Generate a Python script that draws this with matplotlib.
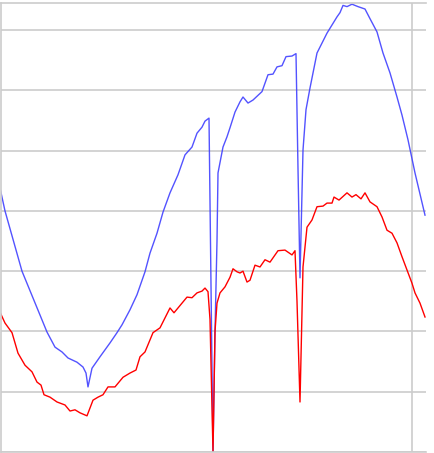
import matplotlib
matplotlib.use('Agg')
import matplotlib.pyplot as plt

# blue series (x position, value)
blue_x = [0, 5, 22, 47, 55, 62, 68, 77, 83, 86, 88, 92, 100, 110, 117, 122, 130, 137,
          145, 150, 157, 163, 170, 178, 185, 192, 197, 202, 205, 209, 213, 215, 217,
          218, 223, 227, 230, 235, 240, 243, 248, 253, 262, 268, 273, 277, 282, 286,
          292, 296, 298, 300, 303, 306, 310, 317, 327, 337, 340, 343, 347, 352, 358,
          365, 370, 377, 383, 390, 397, 402, 408, 415, 425]
blue_y = [43.8, 40.0, 30.0, 19.9, 17.4, 16.6, 15.6, 14.9, 14.1, 13.1, 10.8, 13.9, 15.8,
          18.1, 19.8, 21.1, 23.6, 26.1, 29.9, 33.0, 36.3, 39.8, 43.0, 46.0, 49.3, 50.6,
          52.9, 53.9, 54.9, 55.4, 0.0, 20.0, 35.0, 46.3, 50.6, 52.3, 53.8, 56.4, 58.1,
          58.9, 57.9, 58.4, 59.8, 62.6, 62.7, 63.9, 64.1, 65.6, 65.7, 66.1, 47.0, 28.9,
          50.1, 56.8, 60.4, 66.2, 69.5, 72.2, 72.9, 74.1, 73.9, 74.3, 73.9, 73.5, 71.9,
          69.7, 66.2, 62.9, 58.9, 55.9, 51.8, 46.3, 39.3]

# red series
red_x = [0, 5, 12, 18, 25, 32, 37, 41, 44, 50, 57, 65, 70, 75, 80, 87, 93, 98, 103, 108,
         115, 123, 130, 136, 140, 145, 153, 160, 170, 174, 182, 187, 192, 197, 202, 205,
         208, 210, 213, 215, 217, 220, 225, 230, 233, 237, 240, 243, 247, 250, 255, 260,
         265, 270, 278, 285, 292, 295, 297, 300, 303, 307, 312, 317, 323, 327, 332, 334,
         339, 347, 352, 356, 361, 365, 370, 377, 382, 387, 392, 397, 402, 407, 412, 415,
         420, 425]
red_y = [23.2, 21.4, 19.8, 16.4, 14.4, 13.3, 11.6, 11.1, 9.5, 9.1, 8.3, 7.8, 6.8, 7.0,
         6.5, 6.0, 8.6, 9.1, 9.5, 10.8, 10.8, 12.4, 13.1, 13.6, 15.8, 16.6, 19.8, 20.6,
         23.9, 23.1, 24.7, 25.7, 25.6, 26.4, 26.7, 27.2, 26.6, 22.0, 0.0, 20.0, 24.7,
         26.4, 27.4, 29.0, 30.4, 29.9, 29.7, 30.0, 28.2, 28.5, 31.0, 30.7, 31.9, 31.5,
         33.4, 33.5, 32.7, 33.4, 25.0, 8.3, 30.7, 37.3, 38.5, 40.7, 40.8, 41.3, 41.3,
         42.3, 41.8, 43.0, 42.3, 42.7, 42.0, 43.0, 41.5, 40.7, 39.0, 36.8, 36.3, 34.7,
         32.4, 30.2, 28.0, 26.4, 24.7, 22.4]

grid_y = [0, 10, 20, 30, 40, 50, 60, 70]
grid_x = [412]

fig = plt.figure(figsize=(4.34, 4.53), dpi=100)
ax = fig.add_axes([1 / 434, 1 / 453, 425 / 434, 449 / 453])

ax.plot(blue_x, blue_y, color='#4040ff', linewidth=1.0, alpha=0.9)
ax.plot(red_x, red_y, color='#ff0000', linewidth=1.0)

ax.set_xlim(1, 426)
ax.set_ylim(0, 74.5)
ax.set_yticks(grid_y)
ax.set_xticks(grid_x)
ax.tick_params(length=0, labelleft=False, labelbottom=False)
ax.grid(True, color='#cccccc', linewidth=1.2)
ax.set_axisbelow(True)

for side in ['top', 'left', 'bottom']:
    ax.spines[side].set_color('#cccccc')
    ax.spines[side].set_linewidth(1.2)
ax.spines['right'].set_visible(False)

fig.savefig('out.png', dpi=100)
